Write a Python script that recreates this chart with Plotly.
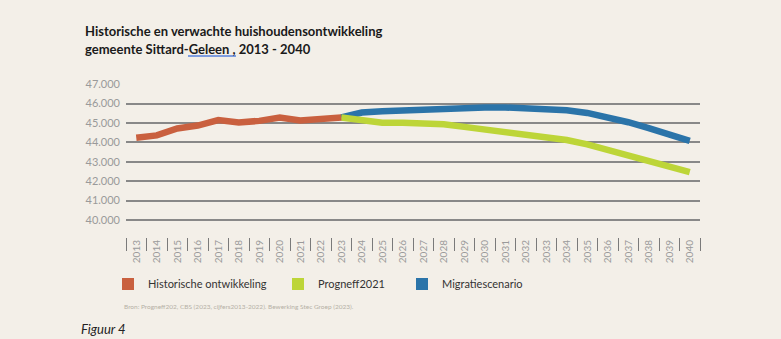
import plotly.graph_objects as go

# ---- data ----
years = [str(y) for y in range(2013, 2041)]
hist_years = [str(y) for y in range(2013, 2024)]
hist_values = [44240, 44360, 44720, 44870, 45150, 45030, 45110, 45280, 45130, 45220, 45285]
prog_years = [str(y) for y in range(2023, 2041)]
progneff_values = [45285, 45110, 45010, 45010, 45010, 44940, 44800, 44670, 44530, 44410,
                   44270, 44120, 43900, 43600, 43330, 43050, 42760, 42470]
migratie_values = [45285, 45540, 45610, 45660, 45710, 45760, 45800, 45800, 45800, 45760,
                   45730, 45660, 45520, 45320, 45040, 44740, 44430, 44080]
series_names = ["Historische ontwikkeling", "Progneff2021", "Migratiescenario"]
y_ticks = [40000, 41000, 42000, 43000, 44000, 45000, 46000, 47000]

title_lines = ["Historische en verwachte huishoudensontwikkeling",
               "gemeente Sittard-Geleen , 2013 - 2040"]
source_text = "Bron: Progneff202, CBS (2023, cijfers2013-2022). Bewerking Stec Groep (2023)."
figure_label = "Figuur 4"

# ---- style ----
W, H = 781, 339
ML, MR, MT, MB = 126, 81, 84, 102
BG = "#f3efe8"
RED, GREEN, BLUE = "#c9603f", "#bdd538", "#2b74a9"
GRID = "#888888"
FONT = "Lato"

pw = W - ML - MR
ph = H - MT - MB


def px_x(p):
    return (p - ML) / pw


def px_y(p):
    return (H - MB - p) / ph


fig = go.Figure()

fig.add_trace(go.Scatter(x=prog_years, y=migratie_values, mode="lines",
                         line=dict(color=BLUE, width=6.5), showlegend=False, hoverinfo="skip"))
fig.add_trace(go.Scatter(x=prog_years, y=progneff_values, mode="lines",
                         line=dict(color=GREEN, width=6.5), showlegend=False, hoverinfo="skip"))
fig.add_trace(go.Scatter(x=hist_years, y=hist_values, mode="lines",
                         line=dict(color=RED, width=6.5), showlegend=False, hoverinfo="skip"))

# legend entries (square swatches), each in its own legend for placement
legend_cols = [RED, GREEN, BLUE]
legend_ids = ["legend", "legend2", "legend3"]
legend_px = [108, 278, 402]
for name, col, lid in zip(series_names, legend_cols, legend_ids):
    fig.add_trace(go.Scatter(x=[None], y=[None], mode="markers", name=name,
                             marker=dict(symbol="square", size=12, color=col),
                             legend=lid, hoverinfo="skip"))

legend_common = dict(orientation="h", bgcolor="rgba(0,0,0,0)", borderwidth=0,
                     font=dict(family=FONT, size=11, color="#333333"),
                     yanchor="middle", xanchor="left", itemwidth=30)
fig.update_layout(
    legend=dict(x=px_x(legend_px[0]), y=px_y(284), **legend_common),
    legend2=dict(x=px_x(legend_px[1]), y=px_y(284), **legend_common),
    legend3=dict(x=px_x(legend_px[2]), y=px_y(284), **legend_common),
)

fig.update_xaxes(
    type="category", categoryorder="array", categoryarray=years,
    tickmode="array", tickvals=years, ticktext=years,
    range=[-0.5, len(years) - 0.5],
    tickson="boundaries", ticks="outside", ticklen=13, tickwidth=1.3, tickcolor="#7a7a7a",
    tickangle=-90, tickfont=dict(family=FONT, size=10, color="#9a9a9a"),
    showgrid=False, showline=False, zeroline=False,
)
fig.update_yaxes(
    range=[39125, 47010], tickmode="array", tickvals=y_ticks, tickformat=",d",
    showgrid=True, gridcolor=GRID, gridwidth=1.5, zeroline=False, showline=False,
    ticks="", tickfont=dict(family=FONT, size=11, color="#9a9a9a"), ticklabelstandoff=5,
)

annotations = [
    dict(text="<b>" + title_lines[0] + "</b>", x=px_x(83), y=px_y(31)),
    dict(text="<b>" + title_lines[1] + "</b>", x=px_x(83), y=px_y(49)),
]
for a in annotations:
    a.update(xref="paper", yref="paper", xanchor="left", yanchor="middle", showarrow=False,
             font=dict(family=FONT, size=13, color="#1a1a1a"))
annotations.append(dict(text=source_text, x=px_x(122), y=px_y(306), xref="paper", yref="paper",
                        xanchor="left", yanchor="middle", showarrow=False,
                        font=dict(family=FONT, size=6.5, color="#b5afa6")))
annotations.append(dict(text="<i>" + figure_label + "</i>", x=px_x(79), y=px_y(329),
                        xref="paper", yref="paper", xanchor="left", yanchor="middle",
                        showarrow=False, font=dict(family=FONT, size=13, color="#222222")))

fig.update_layout(
    width=W, height=H, margin=dict(l=ML, r=MR, t=MT, b=MB, pad=0),
    paper_bgcolor=BG, plot_bgcolor=BG,
    separators=",.",
    annotations=annotations,
    shapes=[dict(type="line", xref="paper", yref="paper",
                 x0=px_x(188), x1=px_x(236), y0=px_y(56), y1=px_y(56),
                 line=dict(color="#7e9de0", width=2))],
)

fig.write_html("out.html")
